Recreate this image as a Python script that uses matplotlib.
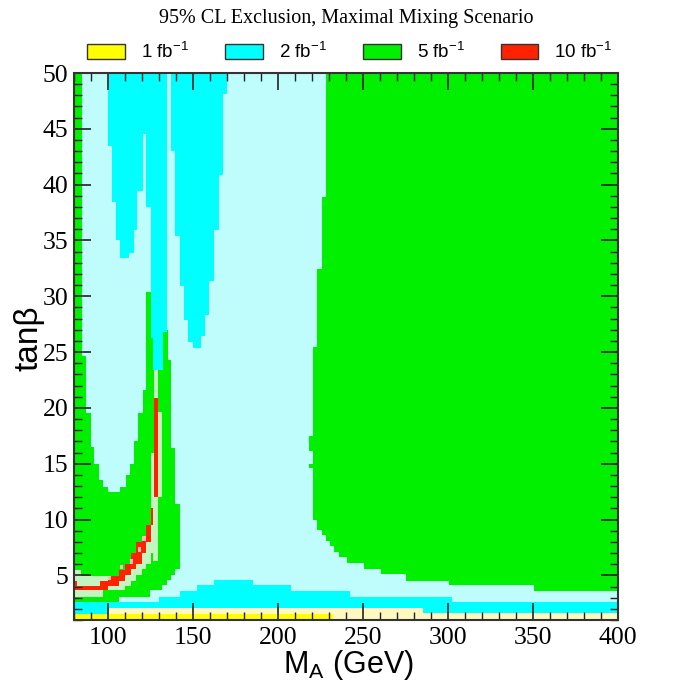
import numpy as np
import matplotlib
matplotlib.use("Agg")
import matplotlib.pyplot as plt
from matplotlib.patches import Patch
from matplotlib.ticker import MultipleLocator

plt.rcParams['mathtext.fontset'] = 'custom'
plt.rcParams['mathtext.rm'] = 'Liberation Sans'
plt.rcParams['mathtext.it'] = 'Liberation Sans:italic'

# ---------------- data (region boundaries) ----------------
title = "95% CL Exclusion, Maximal Mixing Scenario"
legend_labels = ["1 fb$^{-1}$", "2 fb$^{-1}$", "5 fb$^{-1}$", "10 fb$^{-1}$"]

# bottom yellow (1 fb-1) columns
yel_M = [80, 232.5]
yel_lo = [1.0]
yel_hi = [1.55]
# pale yellow columns
pyel_M = [100, 232.5, 285, 400]
pyel_lo = [1.55, 1.0, 1.0]
pyel_hi = [2.05, 2.05, 1.6]
# bottom cyan band columns (2 fb-1)
cyb_M = [80, 100, 130, 142.5, 152.5, 162.5, 185, 207.5, 242.5, 285, 302.5, 400]
cyb_lo = [1.55, 2.05, 2.05, 2.05, 2.05, 2.05, 2.05, 2.05, 2.05, 1.6, 1.6]
cyb_hi = [2.6, 2.6, 3.1, 3.6, 4.1, 4.6, 4.1, 3.6, 3.1, 3.1, 2.6]

# left green (5 fb-1) envelope: rows of tanb, from M=80 to M_right
gl_t = [2.6, 3.1, 3.65, 4.1, 4.55, 5.0, 5.6, 11.4, 16.4, 24.3, 27.0, 30.4, 50]
gl_right = [106.5, 124.5, 131.8, 134.8, 137.3, 139.6, 142.2, 139.6, 137.3, 135.0, 125.0, 84.6]
# pale-cyan interior of the "U" (columns, from u_lo up to 50)
u_M = [84.6, 87.3, 89.8, 91.8, 94.7, 97.1, 100, 107, 110.4, 112.7, 115.2, 117.8, 120.5, 122.6]
u_lo = [24.65, 19.5, 16.5, 15.0, 13.5, 12.9, 12.5, 12.9, 14.0, 15.0, 17.0, 19.5, 21.6]

# right green (5 fb-1) region: rows of tanb, from gr_left to M=400
gr_t = [3.6, 4.1, 4.5, 5.1, 5.6, 6.1, 6.6, 7.1, 7.6, 8.1, 8.6, 9.1, 10.0, 14.6, 15.0,
        16.1, 17.5, 25.5, 32.4, 38.9, 50]
gr_left = [350.8, 300.6, 275.2, 260.3, 250.5, 240.7, 235.7, 232.8, 230.6, 228.0, 225.7,
           222.8, 220.8, 218.0, 220.8, 218.0, 220.8, 223.1, 225.9, 228.2]

# upper cyan (2 fb-1) lobes: columns from lo up to 50
cyA_M = [100, 102.3, 104.6, 106.8, 112.3, 115.2, 117.2, 120.5, 122.6, 125, 126.5, 132.2, 134.8]
cyA_lo = [43.5, 38.4, 35.0, 33.4, 33.9, 35.9, 39.4, 44.5, 38.0, 26.3, 23.4, 26.8]
cyB_M = [137.3, 139.6, 142.2, 144.5, 147, 149.8, 154.7, 157.2, 159.6, 162.1, 165, 167.4, 169.9]
cyB_lo = [43.0, 35.4, 30.9, 27.9, 25.9, 25.4, 26.4, 28.3, 31.4, 35.9, 40.9, 48.1]

# pale green halo around the 10 fb-1 band (columns)
pg_M = [80, 84.3, 97, 100, 106.5, 110, 113.7, 116.7, 120.2, 122.5, 125.2, 126.6, 127.3, 129.3, 131.8]
pg_lo = [3.1, 3.1, 3.65, 3.65, 3.65, 4.07, 4.5, 5.05, 5.55, 6.05, 7.0, 6.3, 6.3, 12.0]
pg_hi = [5.5, 4.97, 4.97, 4.95, 5.5, 6.05, 7.0, 8.0, 8.5, 9.55, 16.0, 16.0, 23.4, 19.6]

# red 10 fb-1 band (columns)
red_M = [80, 82, 95, 100, 106.5, 110, 113.7, 116.7, 120.2, 122.5, 125.2, 126.6]
red_lo = [3.65, 3.65, 3.65, 4.07, 4.5, 5.05, 5.55, 6.05, 7.0, 8.0, 9.5]
red_hi = [4.45, 4.07, 4.45, 4.95, 5.5, 6.05, 7.0, 8.0, 8.5, 9.55, 11.05]
red2_M = [127.3, 129.3]
red2_lo = [12.0]
red2_hi = [20.9]

# pale red single cells (M left, M right, tanb low, tanb high)
pink_M0 = [100.0, 106.9, 112.7, 117.6, 120.2]
pink_M1 = [102.0, 108.8, 114.7, 119.6, 122.2]
pink_t0 = [4.6, 5.55, 6.05, 7.05, 8.05]
pink_t1 = [4.97, 5.95, 6.5, 7.5, 8.5]

# ---------------- styles ----------------
C_YEL = '#ffff00'
C_PYEL = '#fff9c0'
C_CYAN = '#00ffff'
C_PCYAN = '#bffcfc'
C_GREEN = '#00f000'
C_PGREEN = '#c4f4c0'
C_RED = '#ff2200'
C_PINK = '#ffbcbc'

W, H = 685, 683
fig = plt.figure(figsize=(W / 100, H / 100), dpi=100)
ax = fig.add_axes([74 / W, 1 - 620 / H, 544 / W, 547 / H])
ax.set_facecolor(C_PCYAN)
ax.set_xlim(80, 400)
ax.set_ylim(1, 50)


def cols(edges, lo, hi, color):
    e = np.asarray(edges, float)
    lo = np.asarray(lo, float)
    hi = np.asarray(hi, float)
    ax.bar(e[:-1], hi - lo, width=np.diff(e), bottom=lo, align='edge',
           color=color, linewidth=0, antialiased=False)


def rows(tedges, left, right, color):
    t = np.asarray(tedges, float)
    left = np.asarray(left, float)
    right = np.asarray(right, float)
    ax.barh(t[:-1], right - left, height=np.diff(t), left=left, align='edge',
            color=color, linewidth=0, antialiased=False)


top = 50.0
cols(cyb_M, cyb_lo, cyb_hi, C_CYAN)
cols(pyel_M, pyel_lo, pyel_hi, C_PYEL)
cols(yel_M, yel_lo, yel_hi, C_YEL)
rows(gl_t, np.full(len(gl_right), 80.0), gl_right, C_GREEN)
cols(u_M, u_lo, np.full(len(u_lo), top), C_PCYAN)
rows(gr_t, gr_left, np.full(len(gr_left), 400.0), C_GREEN)
cols(cyA_M, cyA_lo, np.full(len(cyA_lo), top), C_CYAN)
cols(cyB_M, cyB_lo, np.full(len(cyB_lo), top), C_CYAN)
cols(pg_M, pg_lo, pg_hi, C_PGREEN)
cols(red_M, red_lo, red_hi, C_RED)
cols(red2_M, red2_lo, red2_hi, C_RED)
for m0, m1, t0, t1 in zip(pink_M0, pink_M1, pink_t0, pink_t1):
    cols([m0, m1], [t0], [t1], C_PINK)

# ---------------- axes cosmetics ----------------
ax.set_xticks(np.arange(100, 401, 50))
ax.set_yticks(np.arange(5, 51, 5))
ax.xaxis.set_minor_locator(MultipleLocator(10))
ax.yaxis.set_minor_locator(MultipleLocator(1))
ax.tick_params(which='both', direction='in', top=True, right=True, colors='#222222')
ax.tick_params(which='major', length=12, width=1.2)
ax.tick_params(which='minor', length=6, width=1.0)
ax.tick_params(axis='x', which='major', pad=5)
ax.tick_params(axis='y', which='major', pad=4)
for lab in ax.get_xticklabels() + ax.get_yticklabels():
    lab.set_fontfamily(['Liberation Serif', 'DejaVu Serif'])
    lab.set_fontsize(18.5)
    lab.set_color('black')
for s in ax.spines.values():
    s.set_color('#333333')
    s.set_linewidth(1.5)

fig.text(29 / W, 1 - 338 / H, 'tanβ', rotation=90, ha='center', va='center',
         fontsize=24, family=['Liberation Sans', 'DejaVu Sans'])
fig.text(348 / W, 1 - 673 / H, r'M$_\mathregular{A}$ (GeV)', ha='center', va='baseline',
         fontsize=22, family=['Liberation Sans', 'DejaVu Sans'])
fig.text(346 / W, 1 - 19 / H, title, ha='center', va='center', fontsize=14.5,
         family=['Liberation Serif', 'DejaVu Serif'])

handles = [Patch(facecolor=c, edgecolor='#333333', linewidth=1.0)
           for c in (C_YEL, C_CYAN, C_GREEN, C_RED)]
fig.legend(handles, legend_labels, ncol=4, loc='center',
           bbox_to_anchor=(350 / W, 1 - 52 / H), frameon=False,
           prop={'family': ['Liberation Sans', 'DejaVu Sans'], 'size': 13.5},
           handlelength=2.0, handleheight=0.8, handletextpad=0.85,
           columnspacing=1.95, borderaxespad=0, borderpad=0)

fig.savefig('out.png', dpi=100)
